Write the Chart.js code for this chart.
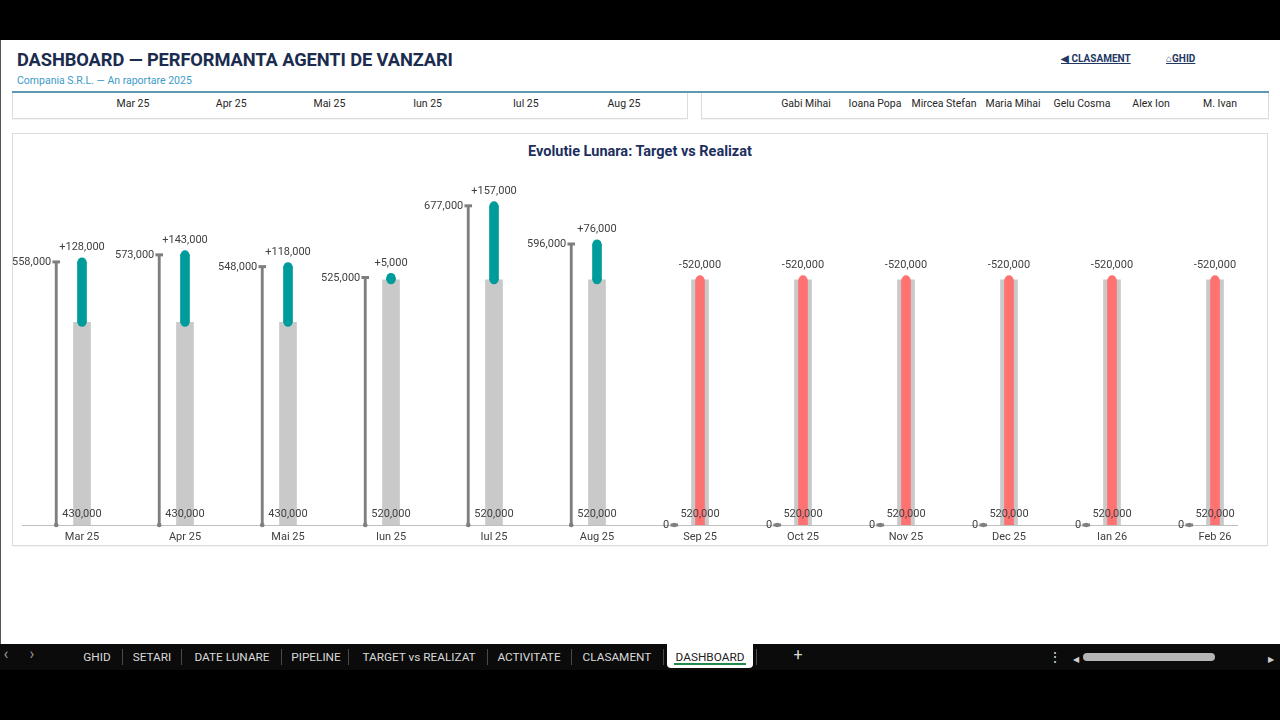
<!DOCTYPE html>
<html><head><meta charset="utf-8">
<script src="https://cdn.jsdelivr.net/npm/chart.js@4.4.1/dist/chart.umd.min.js"></script>
<style>
html,body{margin:0;padding:0;background:#000;}
body{width:1280px;height:720px;position:relative;overflow:hidden;font-family:Roboto,"Noto Sans",sans-serif;}
.abs{position:absolute;white-space:nowrap;}
#sheet{position:absolute;left:0;top:40px;width:1280px;height:604px;background:#fff;border-left:1px solid #555;box-sizing:border-box;}
#h1{left:17px;top:49px;font-size:18.3px;line-height:22px;font-weight:700;color:#1b2c4f;letter-spacing:-0.1px;}
#h2{left:17px;top:74px;font-size:10.5px;line-height:14px;color:#3d9bc8;}
.link{font-size:10px;line-height:12px;font-weight:700;color:#1f3864;text-decoration:underline;top:53px;}
#rule{left:12px;top:91px;width:1257px;height:2px;background:#5f98b5;}
.card{position:absolute;background:#fff;border:1px solid #dcdcdc;box-sizing:border-box;box-shadow:0 1px 1px rgba(0,0,0,0.04);}
.tl{font-size:10.5px;line-height:14px;color:#262626;top:97px;transform:translateX(-50%);}
#ctitle{left:640px;top:143px;font-size:14.5px;line-height:18px;font-weight:700;color:#1c2f5e;transform:translateX(-50%);}
#chartBox{position:absolute;left:12px;top:134px;width:1255px;height:411px;}
#tabbar{position:absolute;left:0;top:644px;width:1280px;height:26px;background:#0b0b0b;}
.tab{font-size:11.8px;line-height:14px;color:#d9d9d9;top:650px;transform:translateX(-50%);}
.sep{position:absolute;top:649px;width:1px;height:16px;background:#4a4a4a;}
#active{position:absolute;left:667px;top:644px;width:86px;height:24px;background:#fff;border-radius:0 0 4px 4px;}
#uline{position:absolute;left:674px;top:663px;width:72px;height:2px;background:#1f8a4c;}
</style></head>
<body>
<div id="sheet"></div>
<div class="abs" id="h1">DASHBOARD — PERFORMANTA AGENTI DE VANZARI</div>
<div class="abs" id="h2">Compania S.R.L. — An raportare 2025</div>
<div class="abs link" style="left:1061px;">◀ CLASAMENT</div>
<div class="abs link" style="left:1166px;">⌂GHID</div>
<div class="card" style="left:12px;top:92px;width:676px;height:27px;"></div>
<div class="card" style="left:701px;top:92px;width:568px;height:27px;"></div>
<div class="abs" id="rule"></div>
<div class="card" style="left:12px;top:133px;width:1256px;height:413px;"></div>
<div class="abs" id="ctitle">Evolutie Lunara: Target vs Realizat</div>
<div id="chartBox"><canvas id="c"></canvas></div>
<div id="tabbar"></div>
<div id="active"></div><div id="uline"></div>
<div id="tabs"></div>
<script>
// ---- data ----
const months = ['Mar 25','Apr 25','Mai 25','Iun 25','Iul 25','Aug 25','Sep 25','Oct 25','Nov 25','Dec 25','Ian 26','Feb 26'];
const target = [430000,430000,430000,520000,520000,520000,520000,520000,520000,520000,520000,520000];
const realizat = [558000,573000,548000,525000,677000,596000,0,0,0,0,0,0];
const diff = [128000,143000,118000,5000,157000,76000,-520000,-520000,-520000,-520000,-520000,-520000];
const topMonths = ['Mar 25','Apr 25','Mai 25','Iun 25','Iul 25','Aug 25'];
const agents = ['Gabi Mihai','Ioana Popa','Mircea Stefan','Maria Mihai','Gelu Cosma','Alex Ion','M. Ivan'];
const sheetTabs = ['GHID','SETARI','DATE LUNARE','PIPELINE','TARGET vs REALIZAT','ACTIVITATE','CLASAMENT','DASHBOARD'];

// ---- page chrome ----
const tabsEl = document.getElementById('tabs');
function addText(cls, txt, x, extra){ const d=document.createElement('div'); d.className='abs '+cls; d.textContent=txt; d.style.left=x+'px'; if(extra) Object.assign(d.style, extra); tabsEl.appendChild(d); }
topMonths.forEach((m,i)=>addText('tl', m, 133 + i*98.2));
agents.forEach((a,i)=>addText('tl', a, 806 + i*69));
const tabX = [97,152,232,316,419,529,617,710];
sheetTabs.forEach((t,i)=>addText('tab', t, tabX[i], i===sheetTabs.length-1?{color:'#222'}:null));
[122,181,281,348,487,571,663,756].forEach(x=>{const s=document.createElement('div'); s.className='sep'; s.style.left=x+'px'; tabsEl.appendChild(s);});
addText('tab','‹',6,{fontSize:'16px',top:'647px',color:'#9a9a9a'});
addText('tab','›',32,{fontSize:'16px',top:'647px',color:'#9a9a9a'});
addText('tab','+',798,{fontSize:'16px',top:'648px',color:'#d9d9d9'});
addText('tab','⋮',1055,{fontSize:'14px',top:'650px',color:'#d9d9d9'});
addText('tab','◀',1076,{fontSize:'8px',top:'653px',color:'#cfcfcf'});
addText('tab','▶',1271,{fontSize:'8px',top:'653px',color:'#cfcfcf'});
const thumb=document.createElement('div'); Object.assign(thumb.style,{position:'absolute',left:'1083px',top:'653px',width:'132px',height:'8px',background:'#b5b5b5',borderRadius:'4px'}); tabsEl.appendChild(thumb);

// ---- chart ----
const TEAL = '#009b9b', RED = '#ff7272', GRAY = '#c9c9c9', STEM = '#7f7f7f', TXT = '#404040';
const FONT = 'Roboto, "Noto Sans", sans-serif';
const diffColors = diff.map(d => d >= 0 ? TEAL : RED);
const RSHIFT = -0.25;
const fmt = v => v.toLocaleString('en-US');

const targetData = months.map((m,i)=>({x:i, y:target[i]}));
const diffData = months.map((m,i)=>({x:i, y:[target[i], target[i]+diff[i]]}));
const capData = months.map((m,i)=>({x:i, y:target[i]})).concat(months.map((m,i)=>({x:i, y:target[i]+diff[i]})));
const capColors = diffColors.concat(diffColors);
const stemData = months.map((m,i)=>({x:i+RSHIFT, y:[0, realizat[i]]}));
const topData = months.map((m,i)=>({x:i+RSHIFT, y:realizat[i]}));
const baseData = months.map((m,i)=>({x:i+RSHIFT, y:0}));

const labelPlugin = {
  id:'valueLabels',
  afterDatasetsDraw(chart){
    const ctx = chart.ctx;
    ctx.save();
    ctx.font = '11px ' + FONT;
    ctx.fillStyle = TXT;
    ctx.textBaseline = 'middle';
    ctx.textAlign = 'right';
    chart.getDatasetMeta(4).data.forEach((p,i)=>ctx.fillText(fmt(realizat[i]), p.x - 5, p.y + 0.5));
    ctx.textAlign = 'center';
    chart.getDatasetMeta(0).data.forEach((b,i)=>ctx.fillText(fmt(target[i]), b.x, b.base - 10.5));
    chart.getDatasetMeta(2).data.forEach((b,i)=>{
      const top = Math.min(b.y, b.base);
      ctx.fillText((diff[i] > 0 ? '+' : '') + fmt(diff[i]), b.x, top - 14.5);
    });
    ctx.restore();
  }
};

new Chart(document.getElementById('c'), {
  type:'bar',
  data:{ datasets:[
    {label:'Target', data:targetData, backgroundColor:GRAY, barThickness:17, grouped:false, order:6},
    {label:'Realizat', data:stemData, backgroundColor:STEM, barThickness:2.2, grouped:false, order:5},
    {label:'Diferenta', data:diffData, backgroundColor:diffColors, barThickness:9, grouped:false, borderSkipped:false, order:3},
    {type:'scatter', label:'capete', data:capData, pointRadius:4.5, pointHoverRadius:4.5, pointBackgroundColor:capColors, pointBorderWidth:0, clip:0, order:2},
    {type:'scatter', label:'Realizat varf', data:topData, pointStyle:'line', pointRadius:3.8, pointBorderWidth:3, pointBorderColor:STEM, clip:false, order:1},
    {type:'scatter', label:'Realizat baza', data:baseData, pointRadius:2.3, pointBackgroundColor:STEM, pointBorderWidth:0, clip:false, order:4}
  ]},
  options:{
    responsive:true, maintainAspectRatio:false, animation:false,
    layout:{padding:{left:10, right:30, top:37.4, bottom:0}},
    plugins:{ legend:{display:false}, tooltip:{enabled:false}, title:{display:false} },
    scales:{
      x:{type:'linear', min:-0.5825, max:11.2135, offset:false, bounds:'data',
         grid:{display:false, drawTicks:false, offset:false},
         border:{display:true, color:'#bfbfbf', width:1},
         ticks:{color:TXT, font:{family:FONT, size:11}, padding:6, maxRotation:0, autoSkip:false, callback:v => months[v] ?? ''},
         afterBuildTicks: ax => { ax.ticks = months.map((m,i)=>({value:i})); },
         afterFit: ax => { ax.height = 20; }
      },
      y:{display:false, min:0, max:750000}
    }
  },
  plugins:[labelPlugin]
});
</script>
</body></html>
